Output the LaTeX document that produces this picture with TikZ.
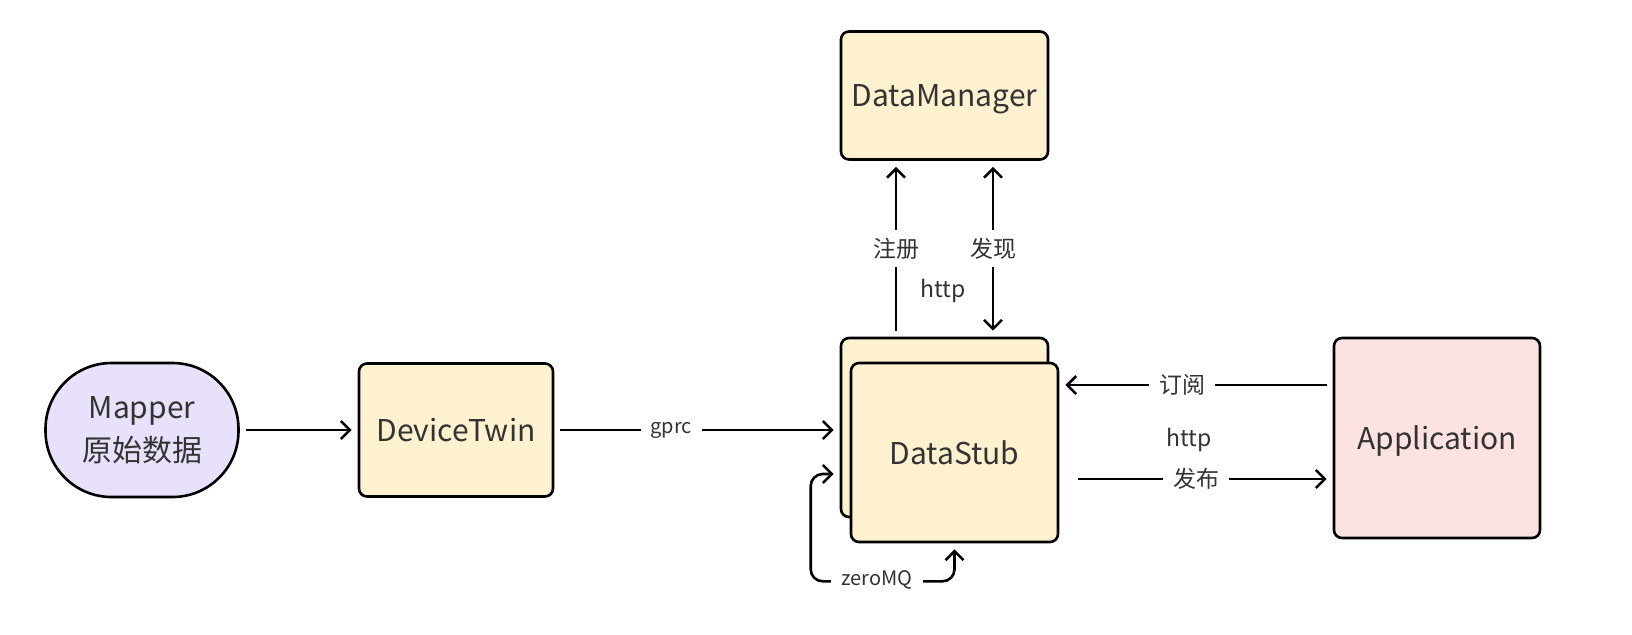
\documentclass[tikz,border=0pt]{standalone}
\usepackage{fontspec}
\setmainfont{Noto Sans CJK SC}
\definecolor{myyellow}{RGB}{253,241,208}
\definecolor{mypurple}{RGB}{233,225,252}
\definecolor{mypink}{RGB}{253,226,226}
\definecolor{mytext}{RGB}{51,51,51}
\usetikzlibrary{arrows.meta,positioning,calc}
\tikzset{edgelabel/.style = {fill=white, inner xsep=5pt, inner ysep=4pt, text=mytext, font=\fontsize{11.5}{13}\selectfont}}

\begin{document}
\begin{tikzpicture}[x=0.5pt,y=-0.5pt,
  line width=1.3pt,
  >={Straight Barb[length=4.5pt,width=9pt]},
  every node/.style={text=mytext},
  box/.style={draw,rounded corners=4pt,fill=myyellow,text depth=0pt,font=\fontsize{15}{18}\selectfont},
  small/.style={font=\fontsize{10}{12}\selectfont},
  link/.style={shorten >=3pt,shorten <=3pt}
  ]
  \useasboundingbox (0,0) rectangle (1632,634);

  % the boxes
  \node[draw,rounded corners=33pt,fill=mypurple,minimum width=96.5pt,minimum height=67pt,
    align=center,font=\fontsize{15}{21.5}\selectfont] (mapper) at (142,430) {Mapper\\原始数据};
  \node[box,minimum width=97pt,minimum height=66.5pt] (twin) at (456,430) {DeviceTwin};
  \node[box,minimum width=103.5pt,minimum height=64pt] (dm) at (944.5,95.5) {DataManager};
  \node[box,minimum width=103.5pt,minimum height=89.5pt] (stubback) at (944.5,427.5) {};
  \node[box,minimum width=103.5pt,minimum height=89.5pt] (stub) at (954.5,452.5) {DataStub};
  \node[box,fill=mypink,minimum width=103pt,minimum height=100pt] (app) at (1437,438) {Application};

  % the edges
  \draw[link,->] (mapper) -- (twin);
  \draw[link,->] (twin) -- (stubback.west |- twin) node [edgelabel,small,pos=0.41] (gprc) {gprc};
  \draw[link,->] ($(stubback.north)+(-48.5,0)$) -- ($(dm.south)+(-48.5,0)$) node [edgelabel,midway] (reg) {注册};
  \draw[link,<->] ($(stubback.north)+(48.5,0)$) -- ($(dm.south)+(48.5,0)$) node [edgelabel,midway] (disc) {发现};
  \node[edgelabel] (httpdm) at (943,291) {http};
  \draw[link,->] ($(app.west)+(0,-53)$) -- ($(stub.east)+(0,-67.5)$) node [edgelabel,pos=0.55] (sub) {订阅};
  \draw[link,->,shorten <=9.5pt] ($(stub.east)+(0,26.5)$) -- ($(app.west)+(0,41)$) node [edgelabel,midway] (pub) {发布};
  \node[edgelabel] (httpapp) at (1189,440) {http};

  % the loop
  \draw[link,<->,rounded corners=6pt] ($(stubback.west)+(0,46.5)$) -- ++(-29,0) |- ($(stub.south)+(0,38)$) -- (stub.south);
  \node[edgelabel,small] (zmq) at (877,580) {zeroMQ};
\end{tikzpicture}
\end{document}
